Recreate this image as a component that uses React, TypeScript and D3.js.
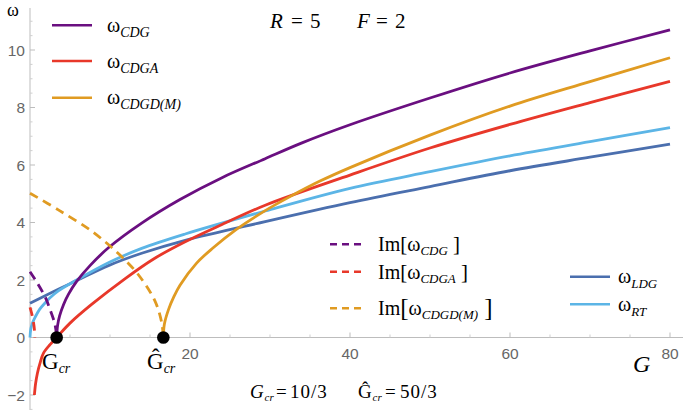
import React from 'react';
import * as d3 from 'd3';

// ---- data (G, ω) ----
const CDG: [number, number][] = [
  [3.333, 0], [3.45, 0.42], [3.7, 0.75], [4.2, 1.15], [4.8, 1.5], [5.83, 1.95], [7.5, 2.5],
  [9.8, 3.12], [13.96, 3.98], [18.75, 4.8], [24, 5.56], [29.4, 6.22], [34, 6.77], [40, 7.4],
  [50, 8.33], [60, 9.2], [70, 9.97], [80, 10.7],
];
const CDGA: [number, number][] = [
  [0.55, -2.0], [0.7, -1.6], [0.92, -1.25], [1.3, -0.85], [1.67, -0.55], [2.5, -0.25], [3.333, 0],
  [5, 0.5], [7.7, 1.15], [11.9, 2.05], [15.5, 2.74], [19.4, 3.33], [24, 3.93], [29.4, 4.6],
  [40, 5.65], [50, 6.59], [60, 7.41], [70, 8.17], [80, 8.91],
];
const CDGD: [number, number][] = [
  [16.667, 0], [16.8, 0.47], [17.3, 0.96], [18, 1.43], [18.75, 1.82], [20.8, 2.58], [22.9, 3.12],
  [25.8, 3.76], [29.2, 4.38], [32.5, 4.9], [36.25, 5.44], [40, 5.91], [50, 7.04], [60, 8.05],
  [70, 8.9], [80, 9.73],
];
const LDG: [number, number][] = [
  [0, 1.19], [3.54, 1.68], [5.83, 1.98], [9.8, 2.5], [13.96, 2.93], [19.4, 3.38], [29.4, 4.03],
  [40, 4.69], [50, 5.25], [60, 5.8], [70, 6.27], [80, 6.73],
];
const RT: [number, number][] = [
  [0, 0], [0.1, 0.3], [0.3, 0.5], [0.63, 0.7], [1.2, 0.98], [1.88, 1.2], [2.5, 1.38], [3.54, 1.62],
  [5.83, 2.0], [9.8, 2.6], [13.96, 3.1], [19.4, 3.6], [29.4, 4.4], [40, 5.19], [50, 5.77],
  [60, 6.32], [70, 6.81], [80, 7.3],
];
const IM_CDG: [number, number][] = [
  [0, 2.29], [0.9, 1.9], [1.875, 1.42], [2.5, 0.98], [3.125, 0.45], [3.333, 0],
];
const IM_CDGA: [number, number][] = [
  [0, 1.05], [0.2, 0.85], [0.42, 0.56], [0.55, 0.28], [0.6, 0],
];
const IM_CDGD: [number, number][] = [
  [0, 5.02], [3.54, 4.44], [7.7, 3.7], [11.04, 2.92], [13.5, 2.2], [15.6, 1.28], [16.46, 0.52],
  [16.667, 0],
];
const CRIT_POINTS: [number, number][] = [[10 / 3, 0], [50 / 3, 0]];

const X_MAJOR = [20, 40, 60, 80];
const X_MINOR = [5, 10, 15, 25, 30, 35, 45, 50, 55, 65, 70, 75];
const Y_MAJOR = [-2, 0, 2, 4, 6, 8, 10];

const C_PURPLE = '#6a0f80';
const C_RED = '#e8382a';
const C_ORANGE = '#e09b22';
const C_DBLUE = '#4b6fae';
const C_LBLUE = '#5cb5e6';

const SERIF = '"Liberation Serif", "Times New Roman", serif';
const SANS = '"Liberation Sans", Arial, sans-serif';

export default function App() {
  const x = d3.scaleLinear().domain([0, 80]).range([30, 670]);
  const y = d3.scaleLinear().domain([0, 10]).range([337.5, 50]);
  const line = d3
    .line<[number, number]>()
    .x((d) => x(d[0]))
    .y((d) => y(d[1]))
    .curve(d3.curveCatmullRom.alpha(0.5));

  const yMinor = d3.range(-2.5, 11.01, 0.5).filter((v) => Math.abs(v % 2) > 0.01);

  const solid = [
    { d: LDG, c: C_DBLUE },
    { d: RT, c: C_LBLUE },
    { d: CDGA, c: C_RED },
    { d: CDG, c: C_PURPLE },
    { d: CDGD, c: C_ORANGE },
  ];
  const dashed = [
    { d: IM_CDG, c: C_PURPLE },
    { d: IM_CDGA, c: C_RED },
    { d: IM_CDGD, c: C_ORANGE },
  ];

  const topLegend = [
    { y: 25.3, c: C_PURPLE, sub: 'CDG' },
    { y: 61, c: C_RED, sub: 'CDGA' },
    { y: 97.7, c: C_ORANGE, sub: 'CDGD(M)' },
  ];
  const imLegend = [
    { y: 244.3, c: C_PURPLE, sub: 'CDG', big: false },
    { y: 271.7, c: C_RED, sub: 'CDGA', big: false },
    { y: 308.3, c: C_ORANGE, sub: 'CDGD(M)', big: true },
  ];
  const rightLegend = [
    { y: 276.7, c: C_DBLUE, sub: 'LDG' },
    { y: 304.3, c: C_LBLUE, sub: 'RT' },
  ];

  return (
    <svg
      width={685}
      height={413}
      style={{ position: 'absolute', left: 0, top: 0, background: '#fff' }}
    >
      {/* axes */}
      <line x1={30} x2={30} y1={8} y2={410} stroke="#bdbdbd" strokeWidth={1} />
      <line x1={30} x2={683} y1={y(0)} y2={y(0)} stroke="#bdbdbd" strokeWidth={1} />
      {Y_MAJOR.map((v) => (
        <line key={'ym' + v} x1={30} x2={35} y1={y(v)} y2={y(v)} stroke="#bdbdbd" />
      ))}
      {yMinor.map((v) => (
        <line key={'yn' + v} x1={30} x2={32.5} y1={y(v)} y2={y(v)} stroke="#cfcfcf" />
      ))}
      {X_MAJOR.map((v) => (
        <line key={'xm' + v} x1={x(v)} x2={x(v)} y1={y(0)} y2={y(0) - 5} stroke="#bdbdbd" />
      ))}
      {X_MINOR.map((v) => (
        <line key={'xn' + v} x1={x(v)} x2={x(v)} y1={y(0)} y2={y(0) - 3} stroke="#cfcfcf" />
      ))}
      {Y_MAJOR.map((v) => (
        <text
          key={'yl' + v}
          x={25}
          y={y(v) + 5.5}
          textAnchor="end"
          fontFamily={SANS}
          fontSize={15.5}
          fill="#666"
        >
          {v < 0 ? '\u2212' + Math.abs(v) : v}
        </text>
      ))}
      {X_MAJOR.map((v) => (
        <text
          key={'xl' + v}
          x={x(v)}
          y={359}
          textAnchor="middle"
          fontFamily={SANS}
          fontSize={15.5}
          fill="#666"
        >
          {v}
        </text>
      ))}
      <text x={7} y={16} fontFamily={SERIF} fontSize={18}>ω</text>
      <text x={633} y={372} fontFamily={SERIF} fontStyle="italic" fontSize={24}>G</text>

      {/* curves */}
      {solid.map((s, i) => (
        <path key={'s' + i} d={line(s.d) || ''} fill="none" stroke={s.c} strokeWidth={2.8} />
      ))}
      {dashed.map((s, i) => (
        <path
          key={'d' + i}
          d={line(s.d) || ''}
          fill="none"
          stroke={s.c}
          strokeWidth={2.8}
          strokeDasharray="9,6"
        />
      ))}
      {CRIT_POINTS.map((p, i) => (
        <circle key={'p' + i} cx={x(p[0])} cy={y(p[1])} r={6.3} fill="#000" />
      ))}

      {/* critical labels */}
      <text x={42} y={369} fontFamily={SERIF} fontSize={23}>
        G<tspan fontSize={14} fontStyle="italic" dy={4}>cr</tspan>
      </text>
      <text x={147} y={369} fontFamily={SERIF} fontSize={23}>
        Ĝ<tspan fontSize={14} fontStyle="italic" dy={4}>cr</tspan>
      </text>

      {/* bottom note */}
      <g fontFamily={SERIF} fontSize={19}>
        <text x={250} y={398} fontStyle="italic">G</text>
        <text x={264.5} y={401} fontStyle="italic" fontSize={11}>cr</text>
        <text x={276} y={398}>=</text>
        <text x={290} y={398} letterSpacing={1}>10/3</text>
        <text x={358} y={398}>Ĝ</text>
        <text x={372.5} y={401} fontStyle="italic" fontSize={11}>cr</text>
        <text x={385} y={398}>=</text>
        <text x={400} y={398} letterSpacing={1}>50/3</text>
      </g>

      {/* parameters */}
      <g fontFamily={SERIF} fontSize={21}>
        <text x={270} y={27.5} fontStyle="italic">R</text>
        <text x={291} y={27.5}>=</text>
        <text x={310} y={27.5}>5</text>
        <text x={357} y={27.5} fontStyle="italic">F</text>
        <text x={376} y={27.5}>=</text>
        <text x={395} y={27.5}>2</text>
      </g>

      {/* legends */}
      {topLegend.map((l) => (
        <g key={'tl' + l.sub}>
          <line x1={52} x2={92} y1={l.y} y2={l.y} stroke={l.c} strokeWidth={2.5} />
          <text x={107} y={l.y + 6.5} fontFamily={SERIF} fontSize={20}>
            ω<tspan fontSize={14} fontStyle="italic" dy={5}>{l.sub}</tspan>
          </text>
        </g>
      ))}
      {imLegend.map((l) => (
        <g key={'il' + l.sub}>
          <line
            x1={330}
            x2={364}
            y1={l.y}
            y2={l.y}
            stroke={l.c}
            strokeWidth={2.5}
            strokeDasharray="7,5"
          />
          <text x={378} y={l.y + 7} fontFamily={SERIF} fontSize={20}>
            Im<tspan fontSize={l.big ? 25 : 21} dy={l.big ? 1 : 0}>[</tspan>
            <tspan dy={l.big ? -1 : 0}>ω</tspan>
            <tspan fontSize={13} fontStyle="italic" dy={4}>{l.sub}</tspan>
            <tspan fontSize={l.big ? 25 : 21} dy={l.big ? -3 : -4}>{' ]'}</tspan>
          </text>
        </g>
      ))}
      {rightLegend.map((l) => (
        <g key={'rl' + l.sub}>
          <line x1={570} x2={610} y1={l.y} y2={l.y} stroke={l.c} strokeWidth={2.5} />
          <text x={618} y={l.y + 6.5} fontFamily={SERIF} fontSize={20}>
            ω<tspan fontSize={13} fontStyle="italic" dy={5}>{l.sub}</tspan>
          </text>
        </g>
      ))}
    </svg>
  );
}
